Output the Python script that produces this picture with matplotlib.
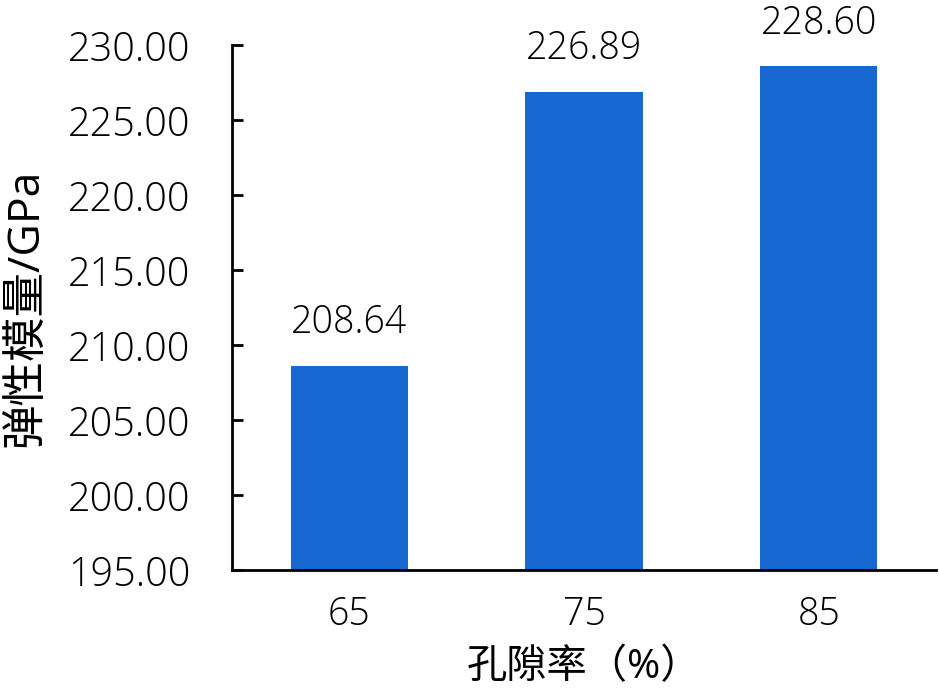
import numpy as np
import matplotlib.pyplot as plt

plt.rcParams['font.family'] = ['Open Sans', 'Noto Sans CJK SC', 'DejaVu Sans']
plt.rcParams['font.weight'] = 'light'

# data
porosity = ['65', '75', '85']
modulus = [208.64, 226.89, 228.60]

fig = plt.figure(figsize=(9.39, 6.96), dpi=100)
ax = fig.add_axes([0.247, 0.181, 0.75, 0.754])

x = np.arange(len(porosity))
bars = ax.bar(x, modulus, width=0.5, color='#1768D0')

for xi, v in zip(x, modulus):
    ax.annotate(f'{v:.2f}', (xi, v), xytext=(0, 17), textcoords='offset points',
                ha='center', va='bottom', fontsize=27)

ax.set_xlim(-0.5, 2.5)
ax.set_ylim(195, 230)
ax.set_yticks(np.arange(195, 230.1, 5))
ax.set_yticklabels([f'{t:.2f}' for t in np.arange(195, 230.1, 5)])
ax.set_xticks(x)
ax.set_xticklabels(porosity)

ax.spines['top'].set_visible(False)
ax.spines['right'].set_visible(False)
ax.spines['left'].set_linewidth(2)
ax.spines['bottom'].set_linewidth(2)
ax.tick_params(axis='y', direction='in', length=8, width=2, labelsize=28.5, pad=30)
ax.tick_params(axis='x', length=0, labelsize=27, pad=18)

ax.set_xlabel('孔隙率（%）', fontsize=29, labelpad=10, fontweight='normal')
ax.set_ylabel('弹性模量/GPa', fontsize=32, labelpad=13, fontweight='normal')

fig.savefig('out.png', dpi=100)
